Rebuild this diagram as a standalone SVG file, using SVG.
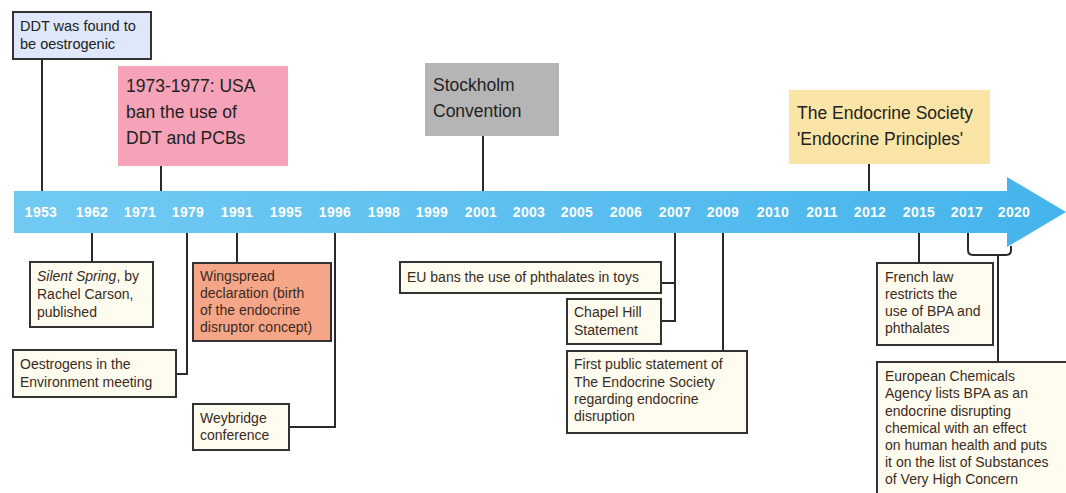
<svg xmlns="http://www.w3.org/2000/svg" width="1066" height="493" viewBox="0 0 1066 493">
<defs>
<linearGradient id="barg" x1="0" y1="0" x2="1" y2="0">
<stop offset="0" stop-color="#72caf3"/>
<stop offset="1" stop-color="#45b4ec"/>
</linearGradient>
<style>
.year{font-family:"Liberation Sans",Arial,sans-serif;font-size:14px;font-weight:bold;fill:#ffffff;text-anchor:middle;letter-spacing:0.3px}
.big{font-family:"Liberation Sans",Arial,sans-serif;font-size:17.5px;fill:#222222}
.mid{font-family:"Liberation Sans",Arial,sans-serif;font-size:14.5px;fill:#222222}
.sm{font-family:"Liberation Sans",Arial,sans-serif;font-size:14px;fill:#3a2a22}
.bx{stroke:#333333;stroke-width:2}
.cream{fill:#fefcee}
.conn{fill:none;stroke:#2a2a2a;stroke-width:2}
</style>
</defs>
<rect width="1066" height="493" fill="#ffffff"/>

<g id="timeline">
<polygon points="14,191 1007,191 1007,177 1066,212 1007,247 1007,233 14,233" fill="url(#barg)"/>
<text class="year" x="41" y="217">1953</text>
<text class="year" x="92" y="217">1962</text>
<text class="year" x="140" y="217">1971</text>
<text class="year" x="188" y="217">1979</text>
<text class="year" x="237" y="217">1991</text>
<text class="year" x="286" y="217">1995</text>
<text class="year" x="335" y="217">1996</text>
<text class="year" x="384" y="217">1998</text>
<text class="year" x="432" y="217">1999</text>
<text class="year" x="481" y="217">2001</text>
<text class="year" x="529" y="217">2003</text>
<text class="year" x="577" y="217">2005</text>
<text class="year" x="626" y="217">2006</text>
<text class="year" x="675" y="217">2007</text>
<text class="year" x="723" y="217">2009</text>
<text class="year" x="773" y="217">2010</text>
<text class="year" x="822" y="217">2011</text>
<text class="year" x="870" y="217">2012</text>
<text class="year" x="919" y="217">2015</text>
<text class="year" x="967" y="217">2017</text>
<text class="year" x="1014" y="217">2020</text>
</g>

<g id="connectors">
<line class="conn" x1="42" y1="59" x2="42" y2="191"/>
<line class="conn" x1="161" y1="166" x2="161" y2="191"/>
<line class="conn" x1="483" y1="136" x2="483" y2="191" stroke-width="2.5"/>
<line class="conn" x1="869" y1="164" x2="869" y2="191"/>
<line class="conn" x1="92" y1="233" x2="92" y2="262"/>
<polyline class="conn" points="187,233 187,374 176,374"/>
<line class="conn" x1="237" y1="233" x2="237" y2="263"/>
<polyline class="conn" points="335,233 335,427 289,427"/>
<polyline class="conn" points="675,233 675,321 661,321"/>
<line class="conn" x1="661" y1="283" x2="675" y2="283"/>
<line class="conn" x1="723" y1="233" x2="723" y2="351"/>
<line class="conn" x1="919" y1="233" x2="919" y2="263"/>
<path class="conn" d="M968,233 V250 Q968,255 973,255 H1006 Q1011,255 1011,250 V246"/>
<line class="conn" x1="998" y1="255" x2="998" y2="362"/>
</g>

<g id="ddt">
<rect class="bx" x="13" y="12" width="138" height="47" fill="#dfe7fa"/>
<text class="mid" x="20" y="31">DDT was found to</text>
<text class="mid" x="20" y="49">be oestrogenic</text>
</g>

<g id="usa-ban">
<rect x="118" y="66" width="170" height="100" fill="#f6a3b9"/>
<text class="big" x="126" y="92">1973-1977: USA</text>
<text class="big" x="126" y="118">ban the use of</text>
<text class="big" x="126" y="144">DDT and PCBs</text>
</g>

<g id="stockholm">
<rect x="425" y="63" width="134" height="73" fill="#b5b5b5"/>
<text class="big" x="433" y="91">Stockholm</text>
<text class="big" x="433" y="117">Convention</text>
</g>

<g id="endocrine-principles">
<rect x="789" y="90" width="201" height="74" fill="#fae5a6"/>
<text class="big" x="797" y="119">The Endocrine Society</text>
<text class="big" x="797" y="145">'Endocrine Principles'</text>
</g>

<g id="silent-spring">
<rect class="bx cream" x="30" y="262" width="123" height="65"/>
<text class="sm" x="37" y="281"><tspan font-style="italic">Silent Spring</tspan>, by</text>
<text class="sm" x="37" y="299">Rachel Carson,</text>
<text class="sm" x="37" y="317">published</text>
</g>

<g id="oestrogens">
<rect class="bx cream" x="13" y="350" width="163" height="47"/>
<text class="sm" x="20" y="369">Oestrogens in the</text>
<text class="sm" x="20" y="387">Environment meeting</text>
</g>

<g id="wingspread">
<rect class="bx" x="193" y="263" width="138" height="78" fill="#f6a688"/>
<text class="sm" x="200" y="281" fill="#4a2414">Wingspread</text>
<text class="sm" x="200" y="298" fill="#4a2414">declaration (birth</text>
<text class="sm" x="200" y="315" fill="#4a2414">of the endocrine</text>
<text class="sm" x="200" y="332" fill="#4a2414">disruptor concept)</text>
</g>

<g id="weybridge">
<rect class="bx cream" x="193" y="404" width="96" height="46"/>
<text class="sm" x="200" y="423">Weybridge</text>
<text class="sm" x="200" y="440">conference</text>
</g>

<g id="eu-bans">
<rect class="bx cream" x="400" y="262" width="261" height="31"/>
<text class="sm" x="407" y="282">EU bans the use of phthalates in toys</text>
</g>

<g id="chapel-hill">
<rect class="bx cream" x="567" y="299" width="94" height="45"/>
<text class="sm" x="574" y="317">Chapel Hill</text>
<text class="sm" x="574" y="335">Statement</text>
</g>

<g id="first-statement">
<rect class="bx cream" x="567" y="351" width="180" height="82"/>
<text class="sm" x="574" y="369">First public statement of</text>
<text class="sm" x="574" y="387">The Endocrine Society</text>
<text class="sm" x="574" y="404">regarding endocrine</text>
<text class="sm" x="574" y="421">disruption</text>
</g>

<g id="french-law">
<rect class="bx cream" x="877" y="263" width="116" height="82"/>
<text class="sm" x="885" y="282">French law</text>
<text class="sm" x="885" y="299">restricts the</text>
<text class="sm" x="885" y="316">use of BPA and</text>
<text class="sm" x="885" y="333">phthalates</text>
</g>

<g id="echa">
<rect class="bx cream" x="877" y="362" width="195" height="140"/>
<text class="sm" x="885" y="381">European Chemicals</text>
<text class="sm" x="885" y="398">Agency lists BPA as an</text>
<text class="sm" x="885" y="416">endocrine disrupting</text>
<text class="sm" x="885" y="433">chemical with an effect</text>
<text class="sm" x="885" y="450">on human health and puts</text>
<text class="sm" x="885" y="467">it on the list of Substances</text>
<text class="sm" x="885" y="484">of Very High Concern</text>
</g>
</svg>
